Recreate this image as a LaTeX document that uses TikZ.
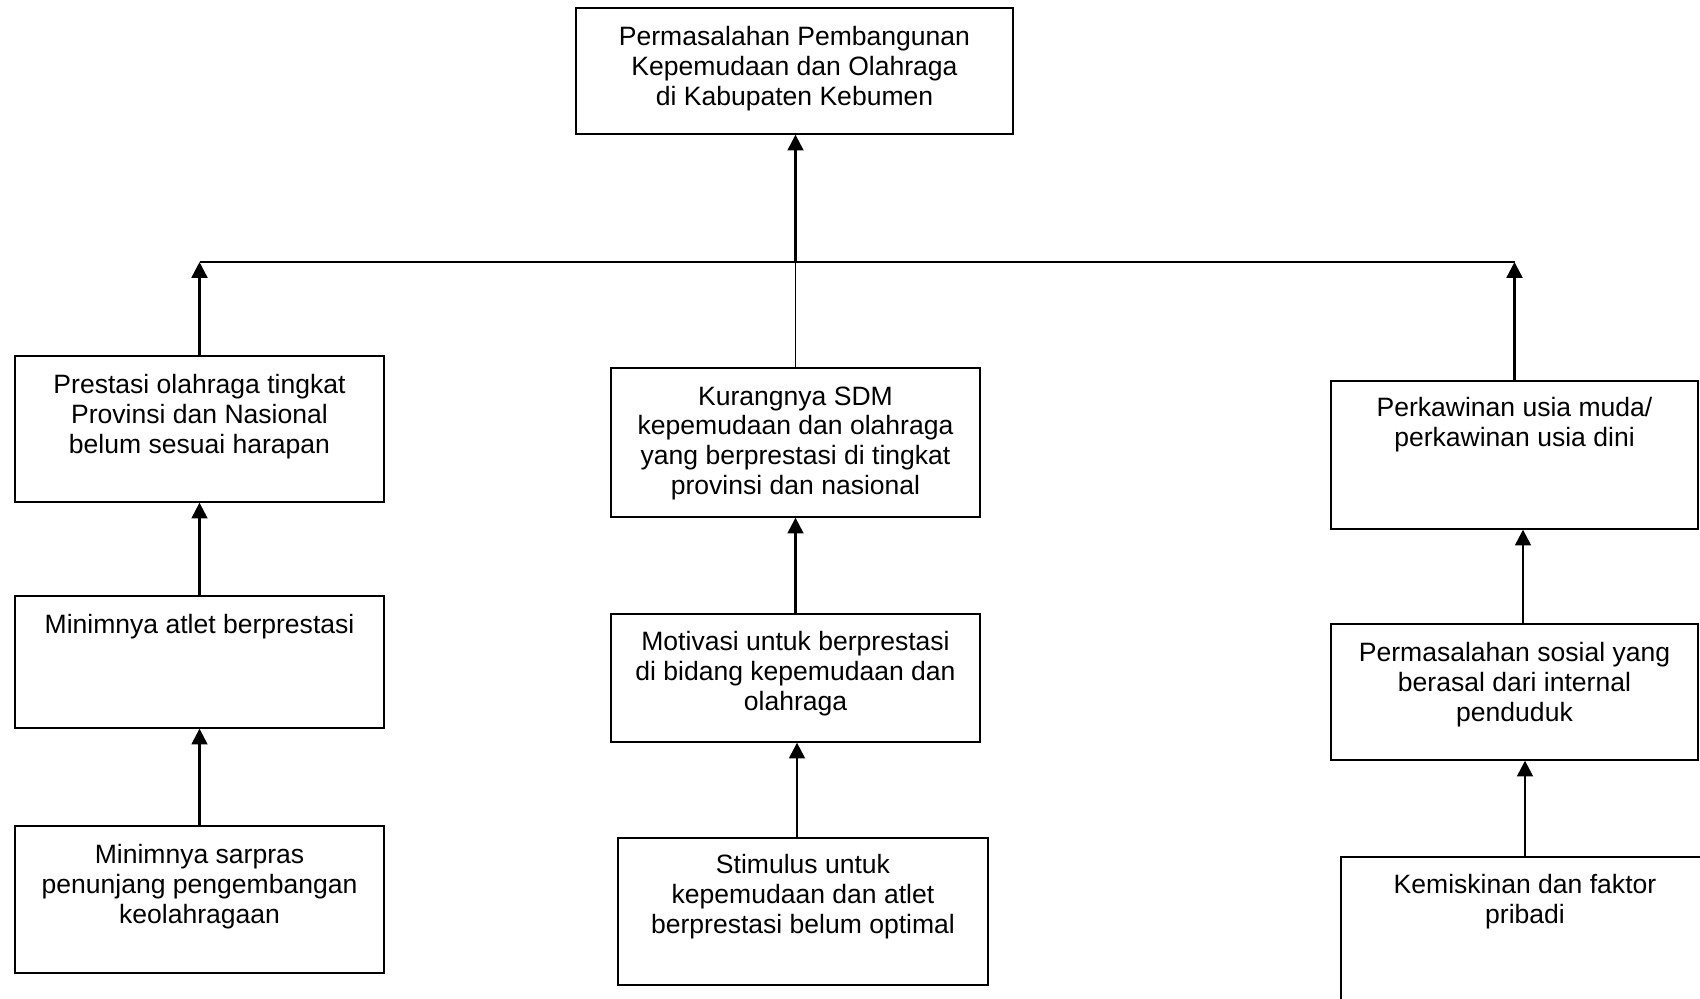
\documentclass[tikz,border=0pt]{standalone}
\usepackage{fontspec}
\setmainfont{Liberation Sans}
\usepackage{tikz}
\usetikzlibrary{arrows.meta, positioning, calc}

\begin{document}
\begin{tikzpicture}
    \tikzstyle{problem} = [rectangle, draw=black, line width=0.75pt, inner sep=0pt]
    \tikzstyle{boxtext} = [align=center, inner sep=0pt, font=\fontsize{15.1}{16.9}\selectfont]
    \tikzstyle{arrow} = [line width=1.4pt, -{Triangle[length=9pt, width=9pt]}]
    \tikzstyle{link} = [line width=0.85pt]

    \clip (0,0) rectangle (34,-19.96);

    % boxes
    \node[problem, minimum width=8.74cm, minimum height=2.52cm] (masalah) at (15.89,-1.42) {};
    \node[problem, minimum width=7.38cm, minimum height=2.92cm] (prestasi) at (3.99,-8.58) {};
    \node[problem, minimum width=7.38cm, minimum height=2.64cm] (atlet) at (3.99,-13.24) {};
    \node[problem, minimum width=7.38cm, minimum height=2.94cm] (sarpras) at (3.99,-17.99) {};
    \node[problem, minimum width=7.38cm, minimum height=2.98cm] (sdm) at (15.91,-8.85) {};
    \node[problem, minimum width=7.38cm, minimum height=2.56cm] (motivasi) at (15.91,-13.56) {};
    \node[problem, minimum width=7.40cm, minimum height=2.94cm] (stimulus) at (16.06,-18.23) {};
    \node[problem, minimum width=7.34cm, minimum height=2.96cm] (kawin) at (30.29,-9.10) {};
    \node[problem, minimum width=7.34cm, minimum height=2.72cm] (sosial) at (30.29,-13.84) {};
    \node[problem, minimum width=7.36cm, minimum height=3.06cm] (miskin) at (30.50,-18.67) {};

    % texts
    \node[boxtext, below=0.38cm of masalah.north] (masalahtext) {Permasalahan Pembangunan\\Kepemudaan dan Olahraga\\di Kabupaten Kebumen};
    \node[boxtext, below=0.38cm of prestasi.north] (prestasitext) {Prestasi olahraga tingkat\\Provinsi dan Nasional\\belum sesuai harapan};
    \node[boxtext, below=0.38cm of atlet.north] (atlettext) {Minimnya atlet berprestasi};
    \node[boxtext, below=0.38cm of sarpras.north] (sarprastext) {Minimnya sarpras\\penunjang pengembangan\\keolahragaan};
    \node[boxtext, below=0.38cm of sdm.north] (sdmtext) {Kurangnya SDM\\kepemudaan dan olahraga\\yang berprestasi di tingkat\\provinsi dan nasional};
    \node[boxtext, below=0.36cm of motivasi.north] (motivasitext) {Motivasi untuk berprestasi\\di bidang kepemudaan dan\\olahraga};
    \node[boxtext, below=0.34cm of stimulus.north] (stimulustext) {Stimulus untuk\\kepemudaan dan atlet\\berprestasi belum optimal};
    \node[boxtext, below=0.34cm of kawin.north] (kawintext) {Perkawinan usia muda/\\perkawinan usia dini};
    \node[boxtext, below=0.38cm of sosial.north] (sosialtext) {Permasalahan sosial yang\\berasal dari internal\\penduduk};
    \node[boxtext, below=0.36cm of miskin.north] (miskintext) {Kemiskinan dan faktor\\pribadi};

    % junctions
    \coordinate (jl) at (prestasi.north |- 0,-5.24);
    \coordinate (jr) at (kawin.north |- jl);
    \coordinate (jc) at (sdm.north |- jl);

    \draw[link] (jl) -- (jr);
    \draw[link] (sdm.north) -- (jc);
    \draw[arrow] (jc) -- (jc |- masalah.south);
    \draw[arrow] (prestasi.north) -- (jl);
    \draw[arrow] (kawin.north) -- (jr);

    \draw[arrow] (atlet.north) -- (prestasi.south);
    \draw[arrow] (sarpras.north) -- (atlet.south);
    \draw[arrow] (motivasi.north) -- (sdm.south);
    \draw[arrow] ([xshift=-0.12cm]stimulus.north) -- ([xshift=-0.12cm]stimulus.north |- motivasi.south);
    \draw[arrow] ([xshift=0.17cm]sosial.north) -- ([xshift=0.17cm]kawin.south);
    \draw[arrow] (miskin.north) -- (miskin.north |- sosial.south);
\end{tikzpicture}
\end{document}
